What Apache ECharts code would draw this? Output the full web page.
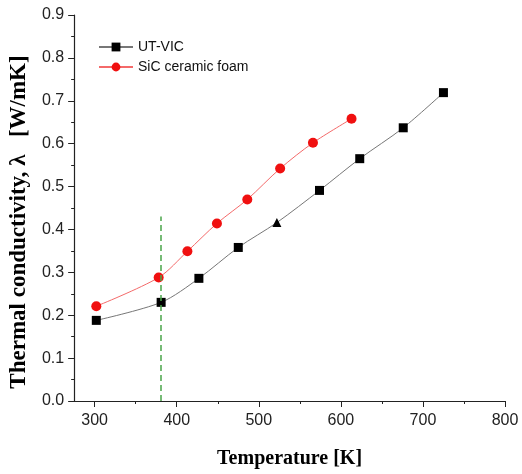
<!DOCTYPE html>
<html>
<head>
<meta charset="utf-8">
<script src="https://cdn.jsdelivr.net/npm/echarts@6/dist/echarts.min.js"></script>
<style>
  html, body { margin: 0; padding: 0; background: #fff; }
  #chart { width: 522px; height: 474px; }
</style>
</head>
<body>
<div id="chart"></div>
<script>
// 数据
var utvicTemp = [302, 381, 427, 475, 522, 574, 623, 676, 725];
var utvicK = [0.188, 0.230, 0.286, 0.358, 0.416, 0.491, 0.565, 0.637, 0.719];
var utvicSymbols = ["rect", "rect", "rect", "rect", "triangle", "rect", "rect", "rect", "rect"];

var sicTemp = [302, 378, 413, 449, 486, 526, 566, 613];
var sicK = [0.221, 0.288, 0.349, 0.414, 0.470, 0.542, 0.602, 0.658];

var xMajorTicks = [300, 400, 500, 600, 700, 800];
var xMinorTicks = [350, 450, 550, 650, 750];
var guideTemp = 380;
var guideTop = 0.43;

function pairs(xs, ys) {
  return xs.map(function(x, i) { return [x, ys[i]]; });
}

var myEchart = echarts.init(document.getElementById("chart"));

var labelFont = { fontFamily: "Liberation Sans", fontSize: 16, color: "#222" };
var titleFont = { fontFamily: "Liberation Serif", fontWeight: "bold", fontSize: 20, color: "#000" };

var option = {
  animation: false,
  backgroundColor: "#fff",
  grid: { left: 74, right: 17, top: 15, bottom: 72 },
  legend: {
    orient: "vertical",
    left: 93,
    top: 35,
    itemWidth: 34,
    itemHeight: 11,
    itemGap: 6,
    textStyle: { fontFamily: "Liberation Sans", fontSize: 14, color: "#111" },
    data: ["UT-VIC", "SiC ceramic foam"]
  },
  xAxis: [{
    type: "value",
    min: 275,
    max: 800,
    name: "Temperature [K]",
    nameLocation: "middle",
    nameGap: 48,
    nameTextStyle: titleFont,
    splitLine: { show: false },
    axisLine: { lineStyle: { color: "#222", width: 1.2 } },
    axisTick: { show: true, length: 6, customValues: xMajorTicks, lineStyle: { color: "#222" } },
    axisLabel: Object.assign({ margin: 12, customValues: xMajorTicks }, labelFont)
  }, {
    // 次刻度
    type: "value",
    min: 275,
    max: 800,
    position: "bottom",
    splitLine: { show: false },
    axisLine: { show: false },
    axisTick: { show: true, length: 3, customValues: xMinorTicks, lineStyle: { color: "#222" } },
    axisLabel: { show: false, customValues: xMinorTicks }
  }],
  yAxis: {
    type: "value",
    min: 0,
    max: 0.9,
    interval: 0.1,
    name: "Thermal conductivity, λ   [W/mK]",
    nameLocation: "middle",
    nameRotate: 90,
    nameGap: 41,
    nameTextStyle: Object.assign({}, titleFont, { fontSize: 23, padding: [0, 28, 0, 0] }),
    splitLine: { show: false },
    axisLine: { show: true, lineStyle: { color: "#222", width: 1.2 } },
    axisTick: { show: true, length: 6, lineStyle: { color: "#222" } },
    minorTick: { show: true, splitNumber: 2, length: 3, lineStyle: { color: "#222" } },
    axisLabel: Object.assign({
      margin: 10,
      formatter: function(v) { return v.toFixed(1); }
    }, labelFont)
  },
  series: [{
    name: "UT-VIC",
    type: "line",
    smooth: 0.3,
    symbol: "rect",
    symbolSize: 9,
    itemStyle: { color: "#000" },
    lineStyle: { color: "#777", width: 1 },
    data: utvicTemp.map(function(x, i) {
      return { value: [x, utvicK[i]], symbol: utvicSymbols[i] };
    }),
    markLine: {
      silent: true,
      symbol: "none",
      label: { show: false },
      lineStyle: { color: "#4aa54a", type: [6, 4], width: 1.5 },
      data: [[{ coord: [guideTemp, 0] }, { coord: [guideTemp, guideTop] }]]
    }
  }, {
    name: "SiC ceramic foam",
    type: "line",
    smooth: 0.3,
    symbol: "circle",
    symbolSize: 10,
    itemStyle: { color: "#f01010" },
    lineStyle: { color: "#f46a6a", width: 1 },
    data: pairs(sicTemp, sicK)
  }]
};

myEchart.setOption(option);
</script>
</body>
</html>
